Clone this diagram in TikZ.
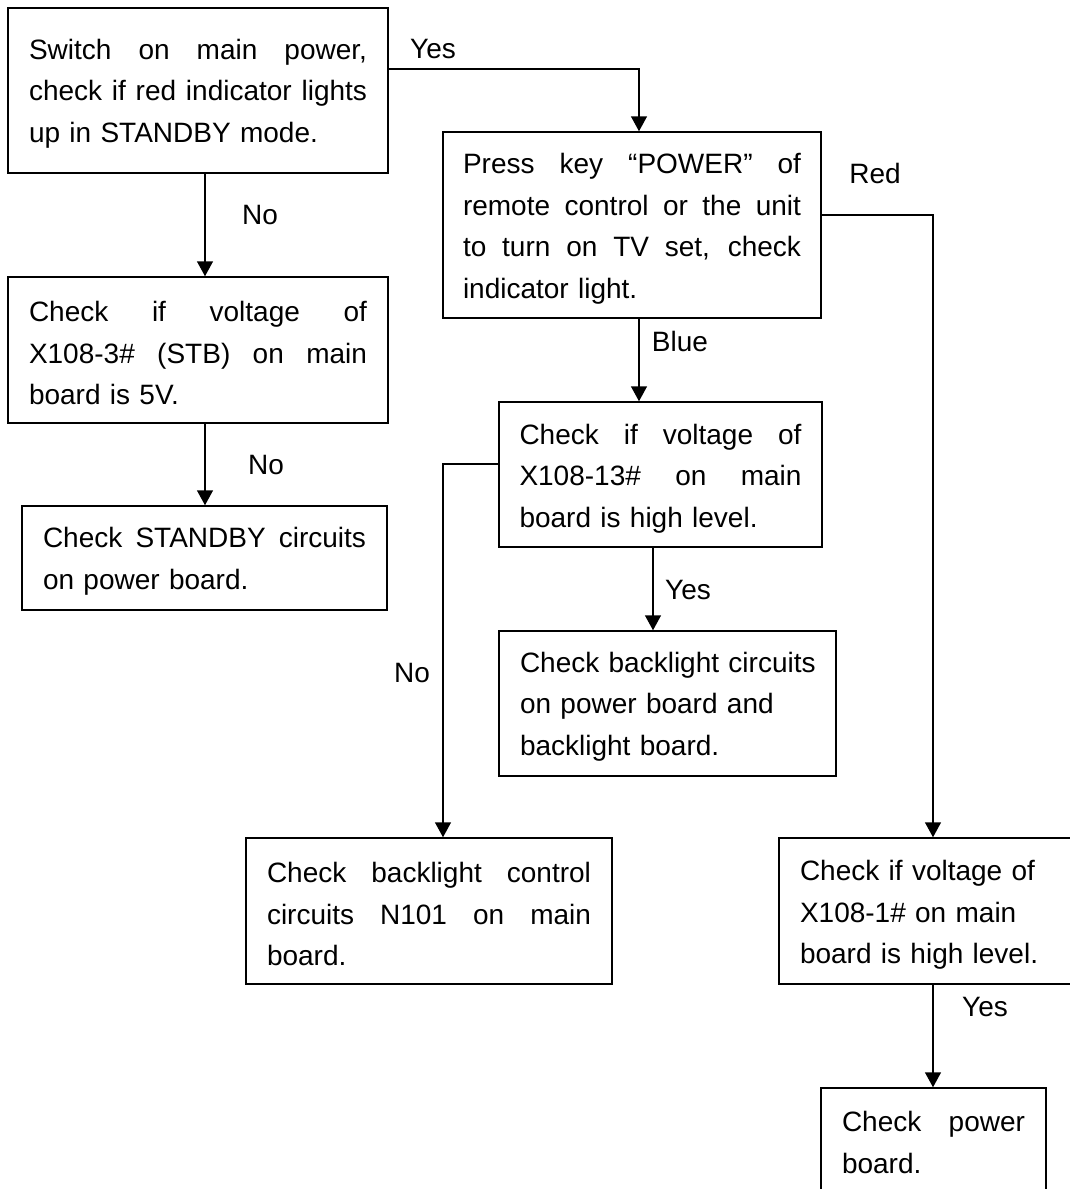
\documentclass[tikz,border=0pt]{standalone}
\usepackage{fontspec}
\setmainfont{Liberation Sans}
\usetikzlibrary{arrows.meta}
\newcommand\jline[2]{\leavevmode\hbox to #1{\spaceskip=0.278em plus 1fil\relax\xspaceskip=0.278em plus 1fil\relax #2}}
\begin{document}
\begin{tikzpicture}[x=1pt,y=-1pt,
  every node/.style={font=\fontsize{28}{41.5}\selectfont},
  box/.style={draw, line width=1.5pt, rectangle, inner sep=0pt},
  txt/.style={inner sep=0pt, align=left},
  lbl/.style={inner sep=0pt},
  arr/.style={line width=1.5pt, -{Triangle[length=15pt,width=16pt]}}]
\useasboundingbox (0,0) rectangle (1070,1189);
\clip (0,0) rectangle (1070,1189);
\fill[white] (0,0) rectangle (1070,1189);

\node[box, minimum width=380pt, minimum height=165pt] (b1) at (198,90.5) {};
\node[txt, text width=338pt] (t1) at ([yshift=-3pt]b1.center)
  {\jline{338pt}{Switch on main power,}\\\jline{338pt}{check if red indicator lights}\\\mbox{up in STANDBY mode.}};
\node[box, minimum width=380pt, minimum height=146pt] (b2) at (198,350) {};
\node[txt, text width=338pt] (t2) at ([yshift=-3pt]b2.center)
  {\jline{338pt}{Check if voltage of}\\\jline{338pt}{X108-3\# (STB) on main}\\\mbox{board is 5V.}};
\node[box, minimum width=365pt, minimum height=104pt] (b3) at (204.5,558) {};
\node[txt, text width=323pt] (t3) at ([yshift=-3.5pt]b3.center)
  {\jline{323pt}{Check STANDBY circuits}\\\mbox{on power board.}};
\node[box, minimum width=378pt, minimum height=186pt] (b4) at (632,225) {};
\node[txt, text width=338pt] (t4) at ([yshift=-4pt]b4.center)
  {\jline{338pt}{Press key “POWER” of}\\\jline{338pt}{remote control or the unit}\\\jline{338pt}{to turn on TV set, check}\\\mbox{indicator light.}};
\node[box, minimum width=323pt, minimum height=145pt] (b5) at (660.5,474.5) {};
\node[txt, text width=282pt] (t5) at ([yshift=-4pt]b5.center)
  {\jline{282pt}{Check if voltage of}\\\jline{282pt}{X108-13\# on main}\\\mbox{board is high level.}};
\node[box, minimum width=337pt, minimum height=145pt] (b6) at (667.5,703.5) {};
\node[txt, text width=295pt] (t6) at ([yshift=-3pt]b6.center)
  {\mbox{Check backlight circuits}\\\mbox{on power board and}\\\mbox{backlight board.}};
\node[box, minimum width=366pt, minimum height=146pt] (b7) at (429,911) {};
\node[txt, text width=324pt] (t7) at ([yshift=-3pt]b7.center)
  {\jline{324pt}{Check backlight control}\\\jline{324pt}{circuits N101 on main}\\\mbox{board.}};
\node[box, minimum width=308pt, minimum height=146pt] (b8) at (933,911) {};
\node[txt, text width=266pt] (t8) at ([yshift=-4pt]b8.center)
  {\mbox{Check if voltage of}\\\mbox{X108-1\# on main}\\\mbox{board is high level.}};
\node[box, minimum width=225pt, minimum height=105pt] (b9) at (933.5,1140.5) {};
\node[txt, text width=183pt] (t9) at ([yshift=-2pt]b9.center)
  {\jline{183pt}{Check power}\\\mbox{board.}};

\coordinate (cyes) at (639,69);
\coordinate (cno1) at (205,0);
\coordinate (cred) at (933,215);
\coordinate (cno3) at (443,464);
\coordinate (cyes2) at (653,0);

\draw[arr] (b1.east |- cyes) -- (cyes) -- (b4.north -| cyes);
\draw[arr] (b1.south -| cno1) -- (b2.north -| cno1);
\draw[arr] (b2.south -| cno1) -- (b3.north -| cno1);
\draw[arr] (b4.south -| cyes) -- (b5.north -| cyes);
\draw[arr] (b4.east |- cred) -- (cred) -- (b8.north -| cred);
\draw[arr] (b5.west |- cno3) -- (cno3) -- (b7.north -| cno3);
\draw[arr] (b5.south -| cyes2) -- (b6.north -| cyes2);
\draw[arr] (b8.south -| cred) -- (b9.north -| cred);

\node[lbl] (lyes1) at (433,49) {Yes};
\node[lbl] (lno1) at (260,215) {No};
\node[lbl] (lno2) at (266,465) {No};
\node[lbl] (lred) at (875,173) {Red};
\node[lbl] (lblue) at (680,341) {Blue};
\node[lbl] (lno3) at (412,673) {No};
\node[lbl] (lyes2) at (688,590) {Yes};
\node[lbl] (lyes3) at (985,1007) {Yes};
\end{tikzpicture}
\end{document}
